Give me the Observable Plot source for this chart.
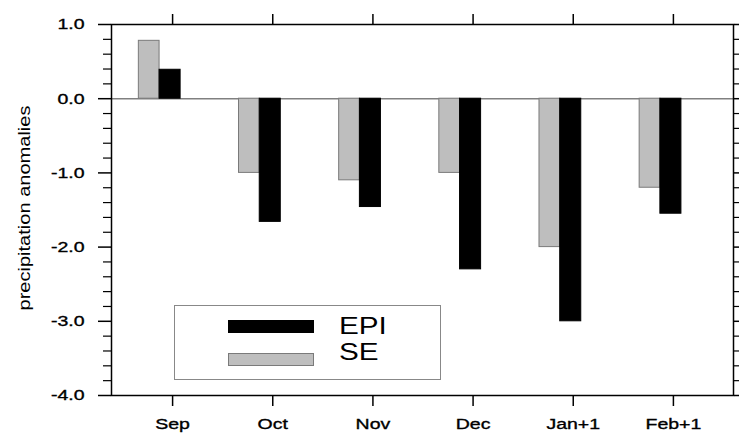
<!DOCTYPE html>
<html>
<head>
<meta charset="utf-8">
<script src="https://cdn.jsdelivr.net/npm/d3@7"></script>
<script src="https://cdn.jsdelivr.net/npm/@observablehq/plot@0.6"></script>
<style>
  html, body { margin: 0; padding: 0; background: #fff; }
  #wrap { position: relative; width: 739px; height: 435px; font-family: "Liberation Sans", Arial, Helvetica, sans-serif; }
  #legend { position: absolute; left: 0; top: 0; pointer-events: none; }
</style>
</head>
<body>
<div id="wrap"></div>
<script>
// ---- data ----
const months = ["Sep", "Oct", "Nov", "Dec", "Jan+1", "Feb+1"];
const seValues = [0.78, -1.0, -1.1, -1.0, -2.0, -1.2];
const epiValues = [0.39, -1.66, -1.46, -2.30, -3.0, -1.55];
const seriesNames = ["EPI", "SE"];
const yMajorTicks = [-4, -3, -2, -1, 0, 1];
const yMinorTicks = d3.range(-20, 6).map(k => k / 5).filter(v => !yMajorTicks.includes(v));

const rows = months.map((m, i) => ({i, month: m, se: seValues[i], epi: epiValues[i]}));

const fmt = d => d.toFixed(1);

const plot = Plot.plot({
  width: 739,
  height: 435,
  marginLeft: 111,
  marginRight: 6,
  marginTop: 24,
  marginBottom: 40,
  style: {fontFamily: '"Liberation Sans", Arial, sans-serif', fontSize: "15px", color: "#000", background: "#fff"},
  x: {domain: [-0.61, 5.6], label: null},
  y: {domain: [-4, 1], label: null},
  marks: [
    Plot.ruleY([0], {stroke: "#808080", strokeWidth: 1.5}),
    Plot.rectY(rows, {x1: d => d.i - 0.337, x2: d => d.i - 0.13, y1: 0, y2: "se", fill: "#bebebe", stroke: "#7a7a7a", strokeWidth: 1, inset: 0}),
    Plot.rectY(rows, {x1: d => d.i - 0.13, x2: d => d.i + 0.08, y1: 0, y2: "epi", fill: "#000", stroke: "#000", strokeWidth: 1, inset: 0}),
    Plot.frame({stroke: "#000", strokeWidth: 1.5}),
    Plot.axisY(yMajorTicks, {anchor: "left", tickSize: 13, tickPadding: 14, tickFormat: fmt, strokeWidth: 1.5, label: null}),
    Plot.axisY(yMinorTicks, {anchor: "left", tickSize: 8, tickFormat: () => "", strokeWidth: 1.2, label: null}),
    Plot.axisY(yMajorTicks, {anchor: "right", tickSize: 13, tickFormat: () => "", strokeWidth: 1.5, label: null}),
    Plot.axisY(yMinorTicks, {anchor: "right", tickSize: 8, tickFormat: () => "", strokeWidth: 1.2, label: null}),
    Plot.axisX(d3.range(months.length), {anchor: "top", tickSize: 11, tickFormat: () => "", strokeWidth: 1.5, label: null}),
    Plot.axisX(d3.range(months.length), {anchor: "bottom", tickSize: 11, tickPadding: 12, tickFormat: i => months[i], strokeWidth: 1.5, label: null}),
    Plot.text(["precipitation anomalies"], {frameAnchor: "left", textAnchor: "middle", rotate: -90, dx: -87, dy: -2, fontSize: 17, fill: "#000"})
  ]
});

document.getElementById("wrap").appendChild(plot);

// widen glyphs along the text direction (reference font is wide)
d3.select(plot).selectAll("text").each(function() {
  const t = this.getAttribute("transform") || "";
  const rotated = t.includes("rotate");
  const s = rotated ? 1.18 : 1.3;
  this.setAttribute("transform", (t + ` scale(${s},1)`).trim());
  if (!rotated && this.textContent) {
    this.setAttribute("stroke", "#000");
    this.setAttribute("stroke-width", 0.35);
  }
});

// ---- legend ----
const legendColors = {EPI: {fill: "#000", stroke: "#000"}, SE: {fill: "#bebebe", stroke: "#7a7a7a"}};
const lg = d3.select("#wrap").append("svg")
  .attr("id", "legend").attr("width", 739).attr("height", 435);
lg.append("rect").attr("x", 174.5).attr("y", 305.5).attr("width", 266).attr("height", 74)
  .attr("fill", "#fff").attr("stroke", "#888").attr("stroke-width", 1);
const rowsY = [{sw: 320.5, base: 333.5}, {sw: 353.5, base: 360}];
seriesNames.forEach((name, k) => {
  lg.append("rect").attr("x", 228.5).attr("y", rowsY[k].sw).attr("width", 85).attr("height", 12)
    .attr("fill", legendColors[name].fill).attr("stroke", legendColors[name].stroke);
  lg.append("text").attr("transform", `translate(339,${rowsY[k].base}) scale(1.29,1)`)
    .attr("font-family", '"Liberation Sans", Arial, sans-serif').attr("font-size", 23)
    .attr("fill", "#000").text(name);
});
</script>
</body>
</html>
